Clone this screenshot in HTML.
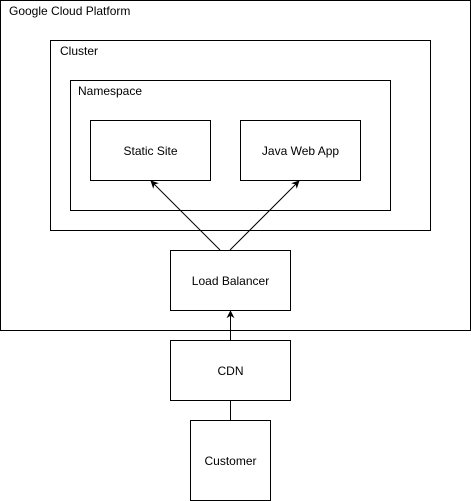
<!DOCTYPE html>
<html><head><meta charset="utf-8"><style>
html,body{margin:0;padding:0;background:#fff;}
svg{display:block;}
text{font-family:"Liberation Sans",Arial,sans-serif;font-size:12px;fill:#000;}
</style></head><body>
<svg width="471" height="501" viewBox="0 0 471 501" xmlns="http://www.w3.org/2000/svg">
<defs>
<marker id="a" viewBox="0 0 10 10" refX="9" refY="5" markerWidth="8" markerHeight="8" orient="auto" markerUnits="userSpaceOnUse">
<path d="M0,0 L10,5 L0,10 L3,5 z" fill="#000"/>
</marker>
</defs>
<g fill="none" stroke="#000" stroke-width="1">
<rect x="0.5" y="0.5" width="470" height="330"/>
<rect x="50.5" y="40.5" width="380" height="190"/>
<rect x="70.5" y="80.5" width="320" height="130"/>
<rect x="90.5" y="120.5" width="120" height="60"/>
<rect x="240.5" y="120.5" width="120" height="60"/>
<rect x="170.5" y="250.5" width="120" height="60"/>
<rect x="170.5" y="340.5" width="120" height="60"/>
<rect x="190.5" y="420.5" width="80" height="80"/>
<line x1="220" y1="250" x2="151" y2="181" marker-end="url(#a)"/>
<line x1="230" y1="250" x2="299" y2="181" marker-end="url(#a)"/>
<line x1="230.5" y1="340" x2="230.5" y2="311" marker-end="url(#a)"/>
<line x1="230.5" y1="400" x2="230.5" y2="420"/>
</g>
<text x="9" y="15">Google Cloud Platform</text>
<text x="60" y="55">Cluster</text>
<text x="78" y="95">Namespace</text>
<text x="150.5" y="155" text-anchor="middle">Static Site</text>
<text x="300.5" y="155" text-anchor="middle">Java Web App</text>
<text x="230.5" y="285" text-anchor="middle">Load Balancer</text>
<text x="230.5" y="375" text-anchor="middle">CDN</text>
<text x="230.5" y="465" text-anchor="middle">Customer</text>
</svg>
</body></html>
